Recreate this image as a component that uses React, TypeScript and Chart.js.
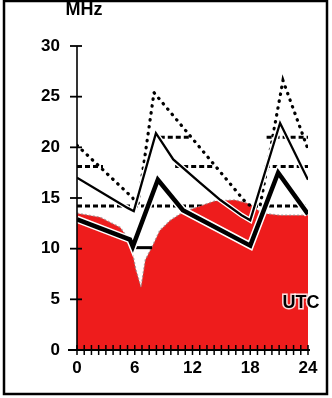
import React, { useEffect, useRef } from 'react';
import { Chart, registerables } from 'chart.js';

Chart.register(...registerables);

// Hours (UTC) and frequencies (MHz)
const redHours = [0, 2.4, 4.5, 5.3, 5.7, 6.1, 6.65, 7.1, 7.8, 8.6, 9.7, 11, 12.5, 14.3, 16.4, 18, 19.2, 21.1, 24];
const redTop = [13.5, 13.1, 12.1, 11.0, 9.9, 8.0, 6.2, 8.9, 10.2, 11.8, 12.8, 13.6, 14.1, 14.7, 14.8, 14.4, 13.5, 13.3, 13.3];

const upperHours = [0, 5.8, 6.3, 8.0, 17.5, 18.2, 19.0, 21.4, 24];
const upperMuf = [20.2, 15.0, 14.1, 25.4, 14.6, 14.1, 14.1, 26.6, 19.8];

const medianHours = [0, 5.3, 5.9, 8.2, 10, 12.8, 14.9, 17.1, 18.0, 21.1, 24];
const medianMuf = [17.0, 14.0, 13.7, 21.4, 18.8, 16.5, 14.8, 13.3, 12.8, 22.4, 16.8];

const lowerHours = [0, 5.5, 5.8, 8.4, 11, 18, 20.9, 24];
const lowerMuf = [12.9, 10.9, 10.2, 16.8, 13.8, 10.3, 17.5, 13.4];

const band10 = 10.1;
const band10Start = [5.8];
const band10End = [7.8];
const band14 = 14.2;
const band14Start = [0];
const band14End = [24];
const band18 = 18.1;
const band18Start = [0, 10.2, 19.5];
const band18End = [2.7, 14.3, 24];
const band21 = 21.0;
const band21Start = [8.6, 19.7];
const band21End = [11.7, 24];

const xTickLabels = [0, 6, 12, 18, 24];
const yTickLabels = [0, 5, 10, 15, 20, 25, 30];

const FONT = "'Liberation Sans', Arial, Helvetica, sans-serif";

function pts(xs: number[], ys: number[]) {
  return xs.map((x, i) => ({ x, y: ys[i] }));
}

function bandPts(f: number, starts: number[], ends: number[]) {
  const out: { x: number; y: number | null }[] = [];
  starts.forEach((s, i) => {
    out.push({ x: s, y: f });
    out.push({ x: ends[i], y: f });
    out.push({ x: ends[i], y: null });
  });
  return out;
}

const decorPlugin = {
  id: 'decor',
  afterDraw(chart: any) {
    const { ctx } = chart;
    const xs = chart.scales.x;
    const ys = chart.scales.y;
    const x0 = xs.getPixelForValue(0);
    const x24 = xs.getPixelForValue(24);
    const y0 = ys.getPixelForValue(0);
    const y30 = ys.getPixelForValue(30);
    ctx.save();
    ctx.strokeStyle = '#000';
    ctx.lineCap = 'butt';
    // y axis
    ctx.lineWidth = 1.6;
    ctx.beginPath();
    ctx.moveTo(x0, y30);
    ctx.lineTo(x0, y0);
    ctx.stroke();
    ctx.lineWidth = 1.8;
    for (const v of yTickLabels) {
      const py = ys.getPixelForValue(v);
      ctx.beginPath();
      ctx.moveTo(x0 - 7, py);
      ctx.lineTo(x0 + 5, py);
      ctx.stroke();
    }
    // x axis
    ctx.lineWidth = 2;
    ctx.beginPath();
    ctx.moveTo(x0 - 9, y0);
    ctx.lineTo(x24 + 2, y0);
    ctx.stroke();
    ctx.lineWidth = 1.5;
    for (let i = 0; i <= 32; i++) {
      const px = xs.getPixelForValue(i * 0.75);
      ctx.beginPath();
      ctx.moveTo(px, y0 - 5);
      ctx.lineTo(px, y0 + 5);
      ctx.stroke();
    }
    // MHz label
    ctx.fillStyle = '#000';
    ctx.font = `bold 18px ${FONT}`;
    ctx.textAlign = 'center';
    ctx.textBaseline = 'alphabetic';
    ctx.fillText('MHz', 84, 15);
    // UTC label
    ctx.font = `bold 18px ${FONT}`;
    ctx.textBaseline = 'middle';
    ctx.lineWidth = 3;
    ctx.strokeStyle = 'rgba(255,255,255,0.85)';
    ctx.strokeText('UTC', 301, 303);
    ctx.fillText('UTC', 301, 303);
    // frame
    ctx.strokeStyle = '#000';
    ctx.lineWidth = 2.5;
    ctx.strokeRect(4, 1, 323, 393);
    ctx.restore();
  },
};

export default function App() {
  const ref = useRef<HTMLCanvasElement | null>(null);

  useEffect(() => {
    if (!ref.current) return;
    const base = { pointRadius: 0, tension: 0, fill: false, spanGaps: false };
    const chart = new Chart(ref.current, {
      type: 'line',
      data: {
        datasets: [
          { ...base, data: bandPts(band14, band14Start, band14End) as any, borderColor: '#000', borderWidth: 3, borderDash: [5, 3], order: 20 },
          {
            ...base,
            data: pts(redHours, redTop),
            borderColor: 'rgba(150,130,130,0.7)',
            borderWidth: 1.5,
            borderDash: [2, 2],
            backgroundColor: '#ee1c1c',
            fill: 'origin',
            order: 15,
          },
          { ...base, data: bandPts(band10, band10Start, band10End) as any, borderColor: '#000', borderWidth: 3, order: 8 },
          { ...base, data: bandPts(band18, band18Start, band18End) as any, borderColor: '#000', borderWidth: 3, borderDash: [5, 3], order: 8 },
          { ...base, data: bandPts(band21, band21Start, band21End) as any, borderColor: '#000', borderWidth: 3, borderDash: [5, 3], order: 8 },
          { ...base, data: pts(upperHours, upperMuf), borderColor: '#000', borderWidth: 3.2, borderDash: [0.5, 6.5], borderCapStyle: 'round', order: 7 },
          { ...base, data: pts(medianHours, medianMuf), borderColor: '#fff', borderWidth: 5, order: 6 },
          { ...base, data: pts(medianHours, medianMuf), borderColor: '#000', borderWidth: 2.3, order: 5 },
          { ...base, data: pts(lowerHours, lowerMuf), borderColor: '#fff', borderWidth: 7.5, order: 4 },
          { ...base, data: pts(lowerHours, lowerMuf), borderColor: '#000', borderWidth: 4.5, order: 3 },
        ],
      },
      options: {
        animation: false,
        responsive: false,
        events: [],
        layout: { padding: { top: 46, right: 24, left: 0, bottom: 0 } },
        plugins: { legend: { display: false }, tooltip: { enabled: false } },
        scales: {
          x: {
            type: 'linear',
            min: 0,
            max: 24,
            grid: { display: false, drawTicks: false },
            border: { display: false },
            afterBuildTicks: (s: any) => {
              s.ticks = xTickLabels.map((v) => ({ value: v }));
            },
            ticks: { padding: 8, color: '#000', font: { family: FONT, size: 17, weight: 'bold' }, maxRotation: 0, autoSkip: false },
            afterFit: (s: any) => {
              s.height = 48;
            },
          },
          y: {
            min: 0,
            max: 30,
            grid: { display: false, drawTicks: false },
            border: { display: false },
            afterBuildTicks: (s: any) => {
              s.ticks = yTickLabels.map((v) => ({ value: v }));
            },
            ticks: { padding: 17, color: '#000', font: { family: FONT, size: 17, weight: 'bold' } },
            afterFit: (s: any) => {
              s.width = 77;
            },
          },
        },
      } as any,
      plugins: [decorPlugin],
    });
    return () => chart.destroy();
  }, []);

  return (
    <div style={{ position: 'fixed', left: 0, top: 0, width: 332, height: 398, background: '#fff' }}>
      <canvas ref={ref} width={332} height={398} style={{ display: 'block' }} />
    </div>
  );
}
